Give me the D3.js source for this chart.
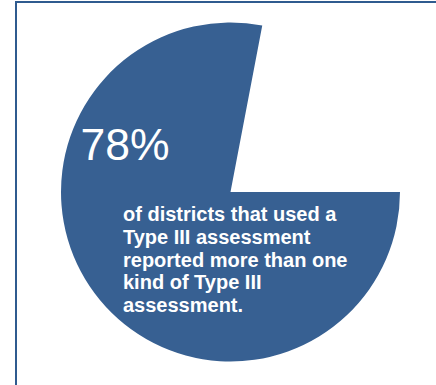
<!DOCTYPE html>
<html>
<head>
<meta charset="utf-8">
<script src="https://cdn.jsdelivr.net/npm/d3@7/dist/d3.min.js"></script>
<style>
  html, body { margin: 0; padding: 0; background: #ffffff; }
  svg { display: block; }
</style>
</head>
<body>
<svg id="chart" width="436" height="385"></svg>
<script>
// Share of districts (that used a Type III assessment) by number of kinds reported
const categories = ["More than one kind", "One kind"];
const values = [78, 22];
const headline = "78%";
const captionLines = [
  "of districts that used a",
  "Type III assessment",
  "reported more than one",
  "kind of Type III",
  "assessment."
];

const svg = d3.select("#chart");
const W = 436, H = 385;
const cx = 230.5, cy = 192, radius = 169.5;
const fill = "#376092";

// Frame: top and left rules
svg.append("path")
  .attr("d", `M16,${H} L16,2 L${W},2`)
  .attr("fill", "none")
  .attr("stroke", "#2f5b8f")
  .attr("stroke-width", 2);

// Pie starts at 3 o'clock and runs clockwise; only the first slice is filled
const pie = d3.pie()
  .value(d => d)
  .sort(null)
  .startAngle(Math.PI / 2)
  .endAngle(Math.PI / 2 + 2 * Math.PI);

const arc = d3.arc().innerRadius(0).outerRadius(radius);

const g = svg.append("g").attr("transform", `translate(${cx},${cy})`);
g.selectAll("path.slice")
  .data(pie(values))
  .join("path")
  .attr("class", "slice")
  .attr("d", arc)
  .attr("fill", (d, i) => i === 0 ? fill : "none")
  .append("title")
  .text((d, i) => `${categories[i]}: ${values[i]}%`);

// Headline figure
svg.append("text")
  .attr("x", 80.5)
  .attr("y", 159.5)
  .attr("fill", "#ffffff")
  .attr("font-family", "Liberation Sans, Arial, sans-serif")
  .attr("font-size", 44.5)
  .text(headline);

// Caption
const cap = svg.append("text")
  .attr("x", 123)
  .attr("y", 221)
  .attr("fill", "#ffffff")
  .attr("font-family", "Liberation Sans, Arial, sans-serif")
  .attr("font-weight", "bold")
  .attr("font-size", 20);

cap.selectAll("tspan")
  .data(captionLines)
  .join("tspan")
  .attr("x", 123)
  .attr("dy", (d, i) => i === 0 ? 0 : 22.75)
  .text(d => d);
</script>
</body>
</html>
